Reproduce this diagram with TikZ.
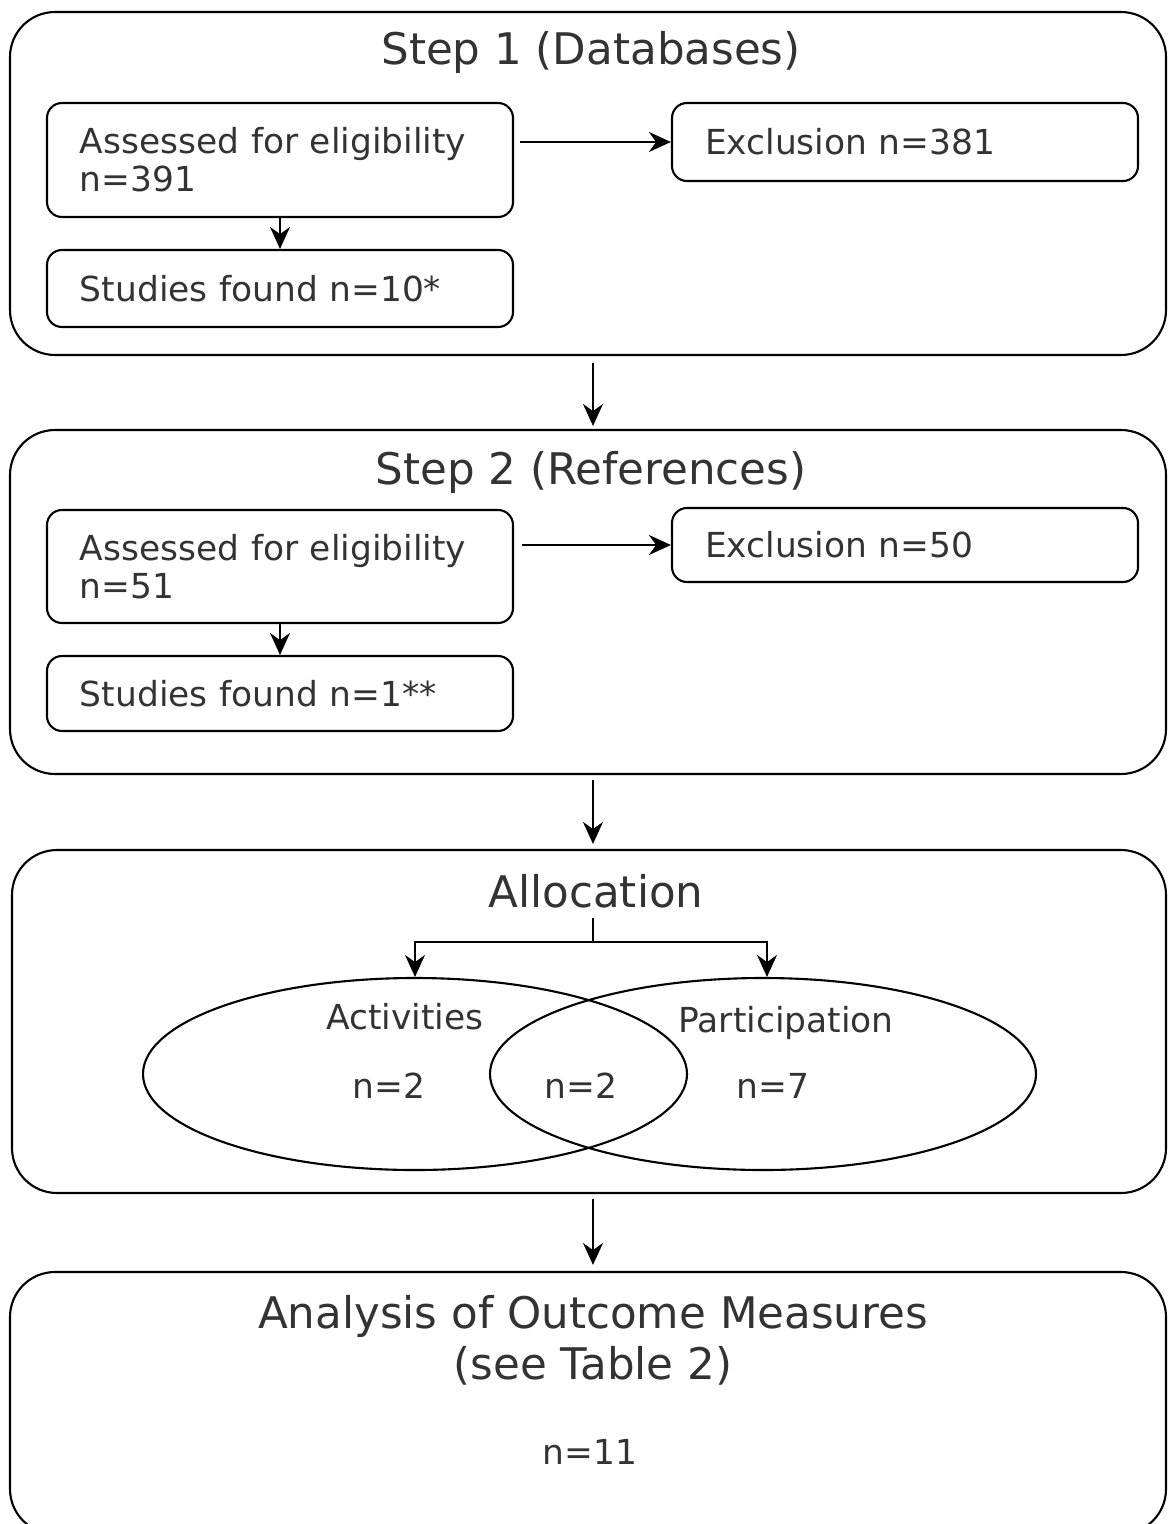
\documentclass[tikz,border=0pt]{standalone}
\usepackage{fontspec}
\setmainfont{DejaVu Sans}
\usetikzlibrary{arrows.meta,shapes.geometric}
\definecolor{txtgray}{HTML}{333333}

\begin{document}
\begin{tikzpicture}[
  stage/.style={draw, line width=0.6pt, rounded corners=0.45cm, minimum width=11.56cm},
  box/.style={draw, line width=0.6pt, rounded corners=0.15cm, text width=4.0cm, inner xsep=0.33cm,
    align=left, text=txtgray, font=\fontsize{9.8}{10.8}\selectfont},
  title/.style={text=txtgray, font=\fontsize{12.4}{14.5}\selectfont, align=center},
  txt/.style={text=txtgray, font=\fontsize{9.8}{11}\selectfont},
  arr/.style={-{Stealth[length=2.2mm, width=2mm]}, line width=0.6pt},
  venn/.style={draw, ellipse, line width=0.6pt, minimum height=1.92cm}
]
\useasboundingbox (0,0) rectangle (11.68,-15.24);

% step 1
\node[stage, minimum height=3.43cm] (db) at (5.88,-1.835) {};
\node[title] (dbtitle) at (5.91,-0.52) {Step 1 (Databases)};
\node[box, minimum height=1.14cm] (as1) at (2.80,-1.60) {Assessed for eligibility\\n=391};
\node[box, minimum height=0.78cm] (ex1) at (9.05,-1.42) {Exclusion n=381};
\node[box, minimum height=0.77cm] (st1) at (2.80,-2.885) {Studies found n=10*};
\draw[arr, shorten <=0.06cm] (as1.east |- ex1.west) -- (ex1.west);
\draw[arr] (as1) -- (st1);

% step 2
\node[stage, minimum height=3.44cm] (refs) at (5.88,-6.02) {};
\node[title] (refstitle) at (5.91,-4.72) {Step 2 (References)};
\node[box, minimum height=1.13cm] (as2) at (2.80,-5.665) {Assessed for eligibility\\n=51};
\node[box, minimum height=0.74cm] (ex2) at (9.05,-5.45) {Exclusion n=50};
\node[box, minimum height=0.75cm] (st2) at (2.80,-6.935) {Studies found n=1**};
\draw[arr, shorten <=0.08cm] (as2.east |- ex2.west) -- (ex2.west);
\draw[arr] (as2) -- (st2);

% allocation
\node[stage, minimum height=3.43cm, minimum width=11.54cm] (alloc) at (5.89,-10.215) {};
\node[title] (alloctitle) at (5.96,-8.91) {Allocation};
\node[venn, minimum width=5.44cm] (act) at (4.15,-10.74) {};
\node[venn, minimum width=5.46cm] (par) at (7.63,-10.74) {};
\node[txt] (actlabel) at (4.05,-10.17) {Activities};
\node[txt] (parlabel) at (7.86,-10.23) {Participation};
\node[txt] (actn) at (3.89,-10.86) {n=2};
\node[txt] (bothn) at (5.81,-10.86) {n=2};
\node[txt] (parn) at (7.73,-10.86) {n=7};
\coordinate (fork) at (5.93,-9.42);
\draw[line width=0.6pt] (fork |- 0,-9.18) -- (fork);
\draw[arr] (fork) -| (act.north);
\draw[arr] (fork) -| ([xshift=0.04cm]par.north);

% analysis
\node[stage, minimum height=2.62cm] (ana) at (5.88,-14.03) {};
\node[title] (anatitle) at (5.93,-13.40) {Analysis of Outcome Measures\\(see Table 2)};
\node[txt] (anan) at (5.90,-14.52) {n=11};

% between stages
\draw[arr, shorten <=0.07cm, shorten >=0.03cm] (db.south -| fork) -- (refs.north -| fork);
\draw[arr, shorten <=0.05cm, shorten >=0.05cm] (refs.south -| fork) -- (alloc.north -| fork);
\draw[arr, shorten <=0.05cm, shorten >=0.06cm] (alloc.south -| fork) -- (ana.north -| fork);

\end{tikzpicture}
\end{document}
